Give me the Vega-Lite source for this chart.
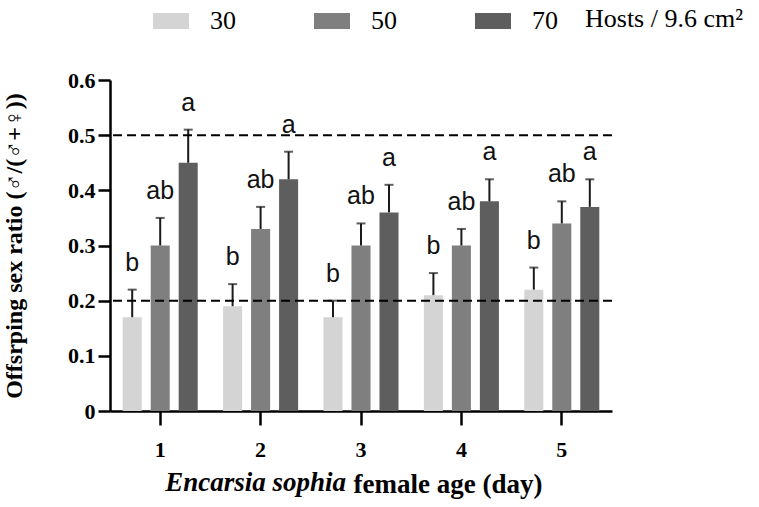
{
  "$schema": "https://vega.github.io/schema/vega-lite/v6.json",
  "width": 502,
  "height": 331,
  "autosize": "none",
  "padding": {"left": 110, "top": 80, "right": 147, "bottom": 96},
  "background": "white",
  "config": {"view": {"stroke": null}, "font": "Liberation Serif"},
  "title": {
    "text": "Encarsia sophia",
    "orient": "bottom",
    "anchor": "start",
    "frame": "group",
    "align": "right",
    "dx": 236,
    "baseline": "alphabetic",
    "offset": -6,
    "font": "Liberation Serif",
    "fontStyle": "italic",
    "fontWeight": "bold",
    "fontSize": 27,
    "color": "black"
  },
  "datasets": {
    "bars": [
      {"day": "1", "hosts": "30", "value": 0.17, "err": 0.22, "letter": "b"},
      {"day": "1", "hosts": "50", "value": 0.30, "err": 0.35, "letter": "ab"},
      {"day": "1", "hosts": "70", "value": 0.45, "err": 0.51, "letter": "a"},
      {"day": "2", "hosts": "30", "value": 0.19, "err": 0.23, "letter": "b"},
      {"day": "2", "hosts": "50", "value": 0.33, "err": 0.37, "letter": "ab"},
      {"day": "2", "hosts": "70", "value": 0.42, "err": 0.47, "letter": "a"},
      {"day": "3", "hosts": "30", "value": 0.17, "err": 0.20, "letter": "b"},
      {"day": "3", "hosts": "50", "value": 0.30, "err": 0.34, "letter": "ab"},
      {"day": "3", "hosts": "70", "value": 0.36, "err": 0.41, "letter": "a"},
      {"day": "4", "hosts": "30", "value": 0.21, "err": 0.25, "letter": "b"},
      {"day": "4", "hosts": "50", "value": 0.30, "err": 0.33, "letter": "ab"},
      {"day": "4", "hosts": "70", "value": 0.38, "err": 0.42, "letter": "a"},
      {"day": "5", "hosts": "30", "value": 0.22, "err": 0.26, "letter": "b"},
      {"day": "5", "hosts": "50", "value": 0.34, "err": 0.38, "letter": "ab"},
      {"day": "5", "hosts": "70", "value": 0.37, "err": 0.42, "letter": "a"}
    ],
    "refs": [{"ref": 0.5}, {"ref": 0.2}]
  },
  "layer": [
    {
      "data": {"name": "bars"},
      "encoding": {
        "x": {
          "field": "day",
          "type": "nominal",
          "scale": {"paddingInner": 0, "paddingOuter": 0},
          "axis": {
            "title": "female age (day)",
            "titleAlign": "left",
            "titleX": 243,
            "titleY": 81,
            "titleBaseline": "alphabetic",
            "titleFont": "Liberation Serif",
            "titleFontWeight": "bold",
            "titleFontSize": 27,
            "titleColor": "black",
            "labelAngle": 0,
            "labelFont": "Liberation Serif",
            "labelFontWeight": "bold",
            "labelFontSize": 22,
            "labelColor": "black",
            "labelPadding": 14,
            "tickSize": 14,
            "tickWidth": 2.5,
            "tickColor": "black",
            "domainColor": "black",
            "domainWidth": 2.5
          }
        },
        "xOffset": {
          "field": "hosts",
          "type": "nominal",
          "scale": {"domain": ["30", "50", "70"], "paddingInner": 0.32, "paddingOuter": 0.453}
        }
      },
      "layer": [
        {
          "mark": {"type": "bar"},
          "encoding": {
            "y": {
              "field": "value",
              "type": "quantitative",
              "scale": {"domain": [0, 0.6], "nice": false},
              "axis": {
                "title": "Offsrping sex ratio (♂/(♂+♀))",
                "values": [0, 0.1, 0.2, 0.3, 0.4, 0.5, 0.6],
                "labelExpr": "datum.value == 0 ? '0' : format(datum.value, '.1f')",
                "grid": false,
                "domainColor": "black",
                "domainWidth": 2.5,
                "tickColor": "black",
                "tickWidth": 2.5,
                "tickSize": 12,
                "labelPadding": 3,
                "labelFont": "Liberation Serif",
                "labelFontWeight": "bold",
                "labelFontSize": 22,
                "labelColor": "black",
                "titleFont": "Liberation Serif, DejaVu Sans",
                "titleFontWeight": "bold",
                "titleFontSize": 24,
                "titleColor": "black",
                "titleX": -84,
                "titleY": 165.5,
                "titleAngle": -90,
                "titleBaseline": "bottom",
                "titleAlign": "center"
              }
            },
            "color": {
              "field": "hosts",
              "type": "nominal",
              "scale": {"domain": ["30", "50", "70"], "range": ["#d4d4d4", "#7f7f7f", "#5e5e5e"]},
              "legend": {
                "orient": "none",
                "legendX": 43,
                "legendY": -77,
                "direction": "horizontal",
                "title": "Hosts / 9.6 cm²",
                "titleOrient": "right",
                "titleFont": "Liberation Serif",
                "titleFontWeight": "normal",
                "titleFontSize": 26,
                "titleColor": "black",
                "titlePadding": 27,
                "titleBaseline": "middle",
                "labelFont": "Liberation Serif",
                "labelFontSize": 26,
                "labelColor": "black",
                "labelOffset": 21,
                "columnPadding": 78,
                "symbolType": "M-1,-0.444H1V0.444H-1Z",
                "symbolSize": 1296,
                "symbolStrokeWidth": 0,
                "symbolOpacity": 1
              }
            }
          }
        },
        {
          "mark": {"type": "rule", "color": "#1a1a1a", "strokeWidth": 2},
          "encoding": {
            "y": {"field": "value", "type": "quantitative"},
            "y2": {"field": "err"}
          }
        },
        {
          "mark": {"type": "tick", "color": "#1a1a1a", "thickness": 2, "size": 9, "orient": "horizontal"},
          "encoding": {
            "y": {"field": "err", "type": "quantitative"}
          }
        },
        {
          "mark": {"type": "text", "font": "Liberation Sans", "fontSize": 25, "baseline": "alphabetic", "dy": -19, "color": "#111111"},
          "encoding": {
            "y": {"field": "err", "type": "quantitative"},
            "text": {"field": "letter"}
          }
        }
      ]
    },
    {
      "data": {"name": "refs"},
      "mark": {"type": "rule", "color": "black", "strokeWidth": 2, "strokeDash": [9, 5]},
      "encoding": {
        "y": {"field": "ref", "type": "quantitative"}
      }
    }
  ]
}
